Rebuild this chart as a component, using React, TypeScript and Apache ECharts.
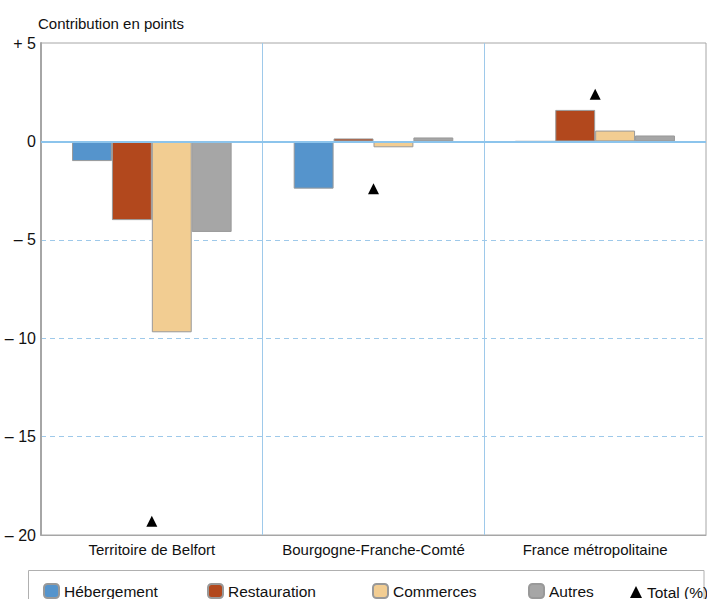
import React, { useEffect, useRef } from "react";
import * as echarts from "echarts";

const categories = ["Territoire de Belfort", "Bourgogne-Franche-Comté", "France métropolitaine"];
const hebergement = [-1.0, -2.4, 0];
const restauration = [-4.0, 0.15, 1.6];
const commerces = [-9.7, -0.3, 0.55];
const autres = [-4.6, 0.2, 0.3];
const total = [-19.3, -2.4, 2.4];
const yTicks = [-20, -15, -10, -5, 0, 5];

const FONT = "Liberation Sans, Arial, sans-serif";
const BLUE_LINE = "#9ec9ea";
const FRAME = "#a6a6a6";

function fmtY(v: number): string {
  if (v === 0) return "0";
  if (v > 0) return "+ " + v;
  return "\u2013 " + Math.abs(v);
}

export default function App() {
  const ref = useRef<HTMLDivElement>(null);
  useEffect(() => {
    document.body.style.margin = "0";
    if (!ref.current) return;
    const chart = echarts.init(ref.current, null, { renderer: "svg" });
    const barStyle = (color: string) => ({ color, borderColor: "#999999", borderWidth: 1 });
    const legendBase = {
      top: 583,
      padding: 0,
      itemWidth: 15,
      itemHeight: 14,
      itemGap: 0,
      itemTextGap: 4,
      textStyle: { fontFamily: FONT, fontSize: 15.5, color: "#111" },
      selectedMode: false,
    };
    chart.setOption({
      animation: false,
      textStyle: { fontFamily: FONT },
      grid: {
        left: 41,
        top: 43,
        right: 1,
        bottom: 64,
        show: true,
        borderColor: FRAME,
        borderWidth: 1,
        backgroundColor: "transparent",
      },
      graphic: [
        {
          type: "text",
          left: 38,
          top: 16,
          style: { text: "Contribution en points", fontFamily: FONT, fontSize: 15, fill: "#111" },
        },
        {
          type: "rect",
          shape: { x: 28.5, y: 570.5, width: 675.5, height: 40 },
          style: { fill: "none", stroke: "#b0b0b0", lineWidth: 1 },
          silent: true,
        },
      ],
      legend: [
        { ...legendBase, left: 43, data: ["Hébergement"] },
        { ...legendBase, left: 207, data: ["Restauration"] },
        { ...legendBase, left: 372, data: ["Commerces"] },
        { ...legendBase, left: 528, data: ["Autres"] },
        { ...legendBase, left: 630, itemWidth: 12, itemHeight: 12, itemTextGap: 3, top: 584, data: ["Total (%)"] },
      ],
      xAxis: {
        type: "category",
        data: categories,
        axisLine: { show: true, onZero: false, lineStyle: { color: FRAME, width: 1 } },
        axisTick: { show: false, interval: 0 },
        axisLabel: { fontFamily: FONT, fontSize: 15, color: "#111", margin: 7, interval: 0 },
        splitLine: {
          show: true,
          interval: 0,
          lineStyle: { color: ["transparent", BLUE_LINE, BLUE_LINE, "transparent"], width: 1 },
        },
      },
      yAxis: {
        type: "value",
        min: yTicks[0],
        max: yTicks[yTicks.length - 1],
        interval: 5,
        axisLine: { show: true, lineStyle: { color: FRAME, width: 2 } },
        axisTick: { show: false },
        axisLabel: {
          fontFamily: FONT,
          fontSize: 16,
          color: "#111",
          margin: 5,
          formatter: (v: number) => fmtY(v),
        },
        splitLine: {
          show: true,
          lineStyle: {
            type: [5, 4],
            color: ["transparent", BLUE_LINE, BLUE_LINE, BLUE_LINE, "transparent", "transparent"],
            width: 1,
          },
        },
      },
      series: [
        {
          name: "Hébergement",
          type: "bar",
          data: hebergement,
          itemStyle: barStyle("#5594cc"),
          barGap: "0%",
          barCategoryGap: "28%",
          markLine: {
            silent: true,
            symbol: "none",
            label: { show: false },
            lineStyle: { color: "#8cc4ec", type: "solid", width: 2 },
            data: [{ yAxis: 0 }],
          },
        },
        { name: "Restauration", type: "bar", data: restauration, itemStyle: barStyle("#b2481d"), barGap: "0%", barCategoryGap: "28%" },
        { name: "Commerces", type: "bar", data: commerces, itemStyle: barStyle("#f2cd92"), barGap: "0%", barCategoryGap: "28%" },
        { name: "Autres", type: "bar", data: autres, itemStyle: barStyle("#a6a6a6"), barGap: "0%", barCategoryGap: "28%" },
        {
          name: "Total (%)",
          type: "scatter",
          data: total,
          symbol: "triangle",
          symbolSize: 11,
          itemStyle: { color: "#000", opacity: 1 },
          z: 5,
        },
      ],
    });
    return () => chart.dispose();
  }, []);
  return <div ref={ref} style={{ width: 707, height: 599 }} />;
}
